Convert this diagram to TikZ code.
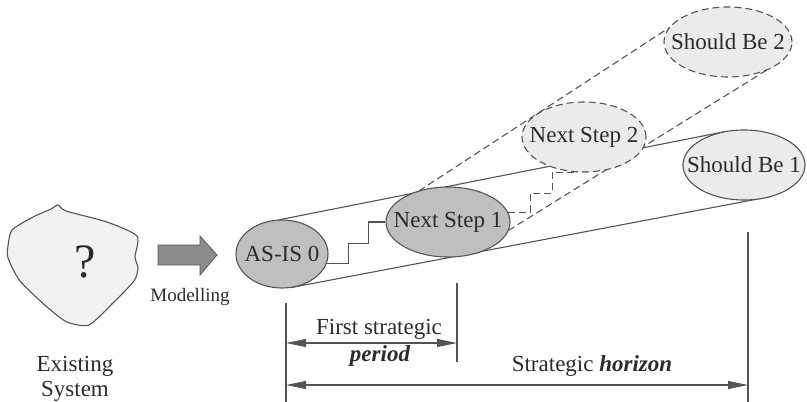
\documentclass[tikz,border=0pt]{standalone}
\usepackage{fontspec}
\setmainfont{Liberation Serif}
\usetikzlibrary{shapes.geometric,arrows.meta}
\definecolor{ink}{gray}{0.17}
\definecolor{edge}{gray}{0.33}
\definecolor{darkfill}{gray}{0.75}
\definecolor{lightfill}{gray}{0.92}
\definecolor{blobfill}{gray}{0.95}
\definecolor{arrowfill}{gray}{0.55}
\tikzset{
  lbl/.style={text=ink, inner sep=0pt, font=\fontsize{23}{27}\selectfont},
  state/.style={ellipse, draw=edge, line width=1.1pt, inner sep=0pt,
    minimum width=#1, minimum height=70pt,
    label={[lbl]center:\statetext}},
  current/.style={state=#1, fill=darkfill},
  target/.style={state=#1, fill=lightfill},
  planned/.style={state=#1, fill=lightfill, dash pattern=on 7pt off 4pt},
  tube/.style={draw=edge, line width=1.1pt},
  dtube/.style={tube, dash pattern=on 7pt off 4pt},
  dim/.style={draw=edge, line width=1.1pt},
  dimarrow/.style={dim, {Triangle[length=20pt,width=8pt]}-{Triangle[length=20pt,width=8pt]}}
}
\newcommand\statetext{}
\newcommand\statenode[4]{% style, name, position, text
  \renewcommand\statetext{#4}%
  \node[#1] (#2) at #3 {};}
\begin{document}
\begin{tikzpicture}[x=1pt,y=-1pt]
\useasboundingbox (0,0) rectangle (807,402);

% the existing system
\draw[draw=edge, line width=1.1pt, fill=blobfill]
  plot[smooth cycle, tension=0.4] coordinates {
    (58,205) (66,211) (107,222) (137,236) (135,257) (138,268) (134,281)
    (113,303) (89,325) (67,322) (47,307) (20,281) (8,258) (8,246)
    (12,230) (33,217) (51,209)};
\node[lbl, font=\fontsize{48}{48}\selectfont] (q) at (85,262) {?};
\node[lbl, align=center, font=\fontsize{23}{25}\selectfont] (exist) at (75,379) {Existing\\System};

% modelling arrow
\draw[draw=gray!70!black, line width=0.8pt, fill=arrowfill]
  (158,245) -- (200,245) -- (200,236) -- (217,255) -- (200,275) -- (200,265) -- (158,265) -- cycle;
\node[lbl, font=\fontsize{19}{22}\selectfont] (model) at (190,297) {Modelling};

% invisible placeholders so the tubes can be drawn first
\foreach \n/\p/\w/\h in {as/{(282,254)}/92/68, ns1/{(448,222)}/124/70, ns2/{(584,137)}/124/70,
                          sb1/{(744,165)}/122/70, sb2/{(728,42)}/128/70}
  \node[ellipse, inner sep=0pt, minimum width=\w pt, minimum height=\h pt] (\n) at \p {};

% tubes
\draw[tube] (as.96) -- (sb1.116);
\draw[tube] (as.286) -- (sb1.312);
\draw[dtube] (ns1.133) -- (sb2.166);
\draw[dtube] (ns1.352) -- (sb2.324.5);

% states
\statenode{current=92pt, minimum height=68pt}{as}{(282,254)}{AS-IS 0}
\statenode{current=124pt}{ns1}{(448,222)}{Next Step 1}
\statenode{planned=124pt}{ns2}{(584,137)}{Next Step 2}
\statenode{target=122pt}{sb1}{(744,165)}{Should Be 1}
\statenode{planned=128pt}{sb2}{(728,42)}{Should Be 2}

% steps between states
\draw[tube] (as.-12) -- ++(22,0) |- ++(20,-20) |- (ns1.west);
\draw[dtube] (ns1.9) -- ++(22,0) |- ++(22,-19) |- (ns2.-105);

% time scales
\coordinate (l0) at (286,303);  \coordinate (l1) at (286,402);
\coordinate (p0) at (457,283);  \coordinate (p1) at (457,362);
\coordinate (h0) at (748,232);  \coordinate (h1) at (748,402);
\draw[dim] (l0) -- (l1);
\draw[dim] (p0) -- (p1);
\draw[dim] (h0) -- (h1);
\draw[dimarrow, fill=edge] (286,343) coordinate (pa) -- (457,343) coordinate (pb);
\draw[dimarrow, fill=edge] (286,385) coordinate (ha) -- (748,385) coordinate (hb);
\node[lbl] (first) at (379,329) {First strategic};
\node[lbl, font=\fontsize{23}{27}\selectfont\bfseries\itshape] (period) at (380,356) {period};
\node[lbl] (horizon) at (592,366) {Strategic \textbf{\textit{horizon}}};
\end{tikzpicture}
\end{document}
